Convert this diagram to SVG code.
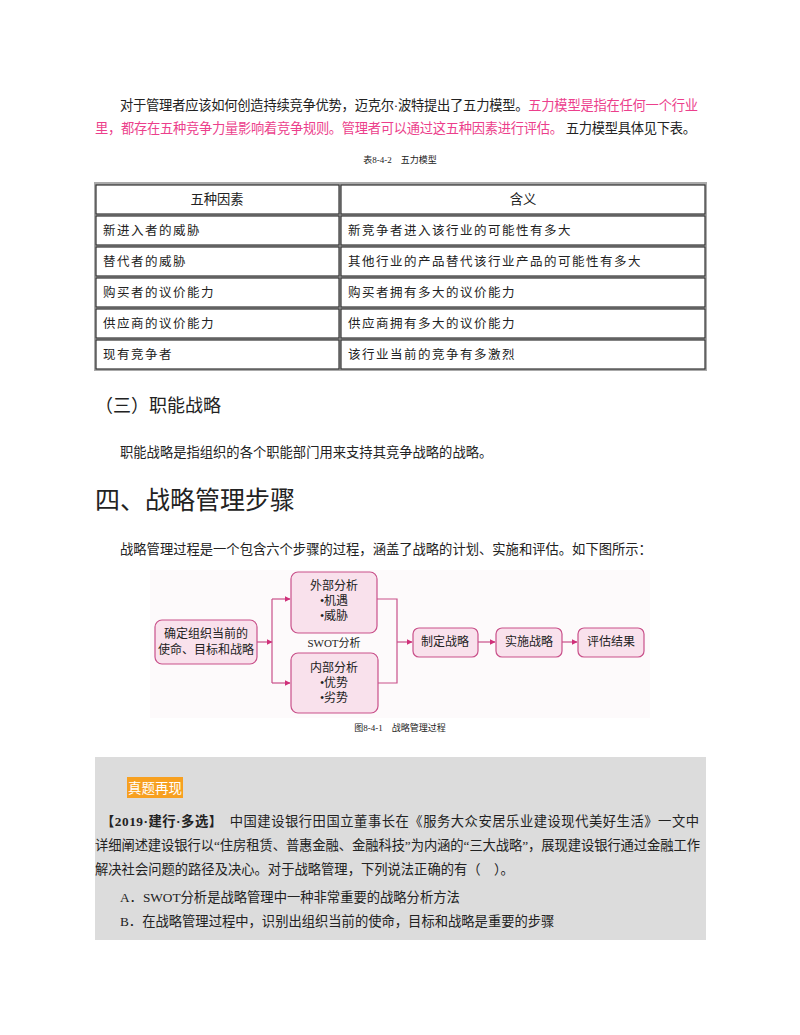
<svg xmlns="http://www.w3.org/2000/svg" width="800" height="1035" viewBox="0 0 800 1035">
<defs>
<style>
text{font-family:"Liberation Serif","Noto Sans CJK SC",serif;fill:#222}
.p{font-size:13.3px}
.pk{fill:#ec3f8c}
.cap{font-size:9px;text-anchor:middle}
.td{font-size:12.5px}
.cell{fill:#fff;stroke:#333;stroke-width:1.2}
.node rect{fill:#f9e1ec;stroke:#c9508a;stroke-width:1.2}
.node text{font-size:12px;text-anchor:middle}
.con{fill:none;stroke:#c9508a;stroke-width:1.2}
</style>
<marker id="ar" viewBox="0 0 10 10" refX="9" refY="5" markerWidth="5" markerHeight="5" orient="auto"><path d="M0,0L10,5L0,10z" fill="#d0307a"/></marker>
</defs>
<rect width="800" height="1035" fill="#fff"/>
<text class="p" x="120" y="110" textLength="578" lengthAdjust="spacing">对于管理者应该如何创造持续竞争优势，迈克尔·波特提出了五力模型。<tspan class="pk">五力模型是指在任何一个行业</tspan></text>
<text class="p" x="95" y="133" textLength="601" lengthAdjust="spacing"><tspan class="pk">里，都存在五种竞争力量影响着竞争规则。管理者可以通过这五种因素进行评估。</tspan> 五力模型具体见下表。</text>
<text class="cap" x="400" y="163">表8-4-2　五力模型</text>
<g id="table">
<rect x="94" y="182" width="613" height="189" fill="#aaa"/>
<rect class="cell" x="96" y="185" width="243" height="29"/><rect class="cell" x="341" y="185" width="364" height="29"/>
<rect class="cell" x="96" y="216" width="243" height="29"/><rect class="cell" x="341" y="216" width="364" height="29"/>
<rect class="cell" x="96" y="247" width="243" height="29"/><rect class="cell" x="341" y="247" width="364" height="29"/>
<rect class="cell" x="96" y="278" width="243" height="29"/><rect class="cell" x="341" y="278" width="364" height="29"/>
<rect class="cell" x="96" y="309" width="243" height="29"/><rect class="cell" x="341" y="309" width="364" height="29"/>
<rect class="cell" x="96" y="340" width="243" height="29"/><rect class="cell" x="341" y="340" width="364" height="29"/>
<text class="p" x="217" y="204" text-anchor="middle">五种因素</text><text class="p" x="523" y="204" text-anchor="middle">含义</text>
<text class="td" x="103" y="235" letter-spacing="1.5">新进入者的威胁</text><text class="td" x="348" y="235" letter-spacing="1.5">新竞争者进入该行业的可能性有多大</text>
<text class="td" x="103" y="266" letter-spacing="1.5">替代者的威胁</text><text class="td" x="348" y="266" letter-spacing="1.5">其他行业的产品替代该行业产品的可能性有多大</text>
<text class="td" x="103" y="297" letter-spacing="1.5">购买者的议价能力</text><text class="td" x="348" y="297" letter-spacing="1.5">购买者拥有多大的议价能力</text>
<text class="td" x="103" y="328" letter-spacing="1.5">供应商的议价能力</text><text class="td" x="348" y="328" letter-spacing="1.5">供应商拥有多大的议价能力</text>
<text class="td" x="103" y="359" letter-spacing="1.5">现有竞争者</text><text class="td" x="348" y="359" letter-spacing="1.5">该行业当前的竞争有多激烈</text>
</g>
<text x="95" y="412" font-size="18">（三）职能战略</text>
<text class="p" x="120" y="457">职能战略是指组织的各个职能部门用来支持其竞争战略的战略。</text>
<text x="95" y="509" font-size="25">四、战略管理步骤</text>
<text class="p" x="120" y="554">战略管理过程是一个包含六个步骤的过程，涵盖了战略的计划、实施和评估。如下图所示：</text>
<rect x="150" y="570" width="500" height="148" fill="#fdfafb"/>
<g id="connectors">
<path class="con" d="M257,642H272" marker-end="url(#ar)"/>
<path class="con" d="M272,599V683"/>
<path class="con" d="M272,599H290" marker-end="url(#ar)"/>
<path class="con" d="M272,683H290" marker-end="url(#ar)"/>
<path class="con" d="M377,599H397V683H378"/>
<path class="con" d="M397,642H412" marker-end="url(#ar)"/>
<path class="con" d="M478,642H495" marker-end="url(#ar)"/>
<path class="con" d="M562,642H577" marker-end="url(#ar)"/>
</g>
<g id="n1" class="node"><rect x="155" y="620" width="102" height="44" rx="7"/><text x="206" y="638">确定组织当前的</text><text x="206" y="654">使命、目标和战略</text></g>
<g id="n2" class="node"><rect x="291" y="572" width="86" height="61" rx="7"/><text x="334" y="590">外部分析</text><text x="334" y="605">•机遇</text><text x="334" y="620">•威胁</text></g>
<text x="334" y="647" font-size="11" text-anchor="middle">SWOT分析</text>
<g id="n3" class="node"><rect x="291" y="653" width="87" height="60" rx="7"/><text x="334" y="672">内部分析</text><text x="334" y="687">•优势</text><text x="334" y="702">•劣势</text></g>
<g id="n4" class="node"><rect x="413" y="628" width="65" height="29" rx="6"/><text x="445" y="646">制定战略</text></g>
<g id="n5" class="node"><rect x="496" y="628" width="66" height="29" rx="6"/><text x="529" y="646">实施战略</text></g>
<g id="n6" class="node"><rect x="578" y="628" width="66" height="29" rx="6"/><text x="611" y="646">评估结果</text></g>
<text class="cap" x="400" y="731">图8-4-1　战略管理过程</text>
<rect x="95" y="757" width="611" height="183" fill="#dcdcdc"/>
<rect x="127" y="777" width="56" height="21" fill="#f7a020"/>
<text x="155" y="793" font-size="13.5" text-anchor="middle" style="fill:#fff">真题再现</text>
<text class="p" x="101" y="826" textLength="598" lengthAdjust="spacing"><tspan font-weight="bold">【2019·建行·多选】</tspan>　中国建设银行田国立董事长在《服务大众安居乐业建设现代美好生活》一文中</text>
<text class="p" x="95" y="850" textLength="605" lengthAdjust="spacing">详细阐述建设银行以“住房租赁、普惠金融、金融科技”为内涵的“三大战略”，展现建设银行通过金融工作</text>
<text class="p" x="95" y="874">解决社会问题的路径及决心。对于战略管理，下列说法正确的有（　）。</text>
<text class="p" x="120" y="902">A．SWOT分析是战略管理中一种非常重要的战略分析方法</text>
<text class="p" x="120" y="926">B．在战略管理过程中，识别出组织当前的使命，目标和战略是重要的步骤</text>
</svg>
